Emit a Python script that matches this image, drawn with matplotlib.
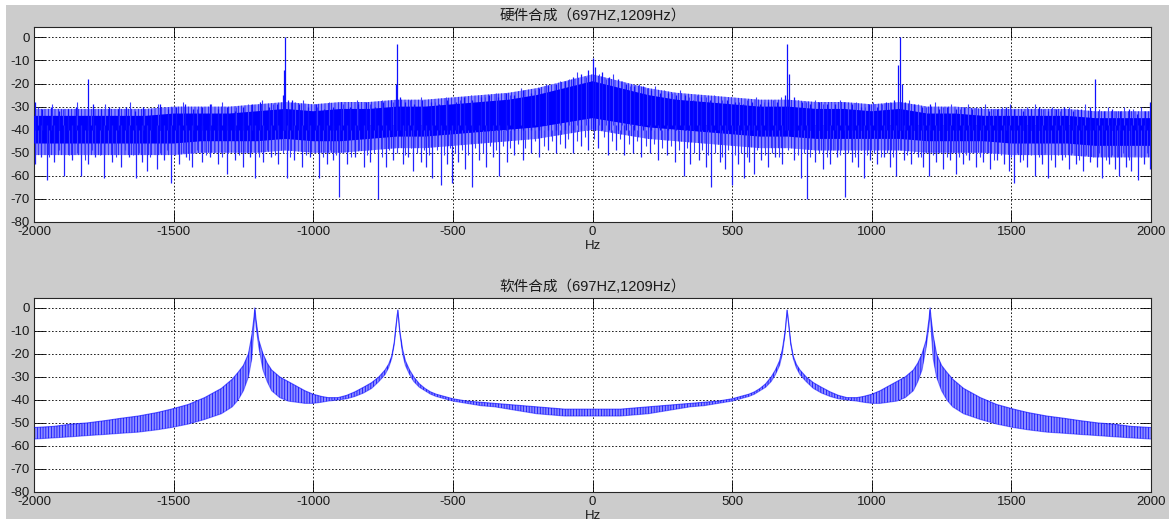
import matplotlib
matplotlib.use("Agg")
import matplotlib.pyplot as plt
from matplotlib.patches import Rectangle

plt.rcParams['axes.unicode_minus'] = False
plt.rcParams['font.family'] = ['Liberation Sans', 'Noto Sans CJK SC', 'DejaVu Sans']
plt.rcParams['hatch.linewidth'] = 0.5

# ---------------- data ----------------
titles = ['硬件合成（697HZ,1209Hz）', '软件合成（697HZ,1209Hz）']
x_ticks = [-2000, -1500, -1000, -500, 0, 500, 1000, 1500, 2000]
y_ticks = [-80, -70, -60, -50, -40, -30, -20, -10, 0]

# top: dense noise core band (dB) sampled every 100 Hz
band_f = list(range(-2000, 2001, 100))
core_hi = [-34, -34, -34, -34, -34, -33, -33, -33, -32, -31, -32, -31, -31, -30, -30, -29, -28, -27, -25, -22, -19,
           -22, -25, -27, -28, -29, -30, -30, -31, -31, -32, -31, -33, -33, -34, -34, -34, -34, -35, -35, -35]
core_lo = [-46, -46, -46, -46, -46, -46, -45, -45, -45, -44, -45, -45, -44, -43, -43, -42, -41, -40, -39, -37, -35,
           -37, -39, -40, -41, -42, -43, -43, -44, -44, -44, -44, -45, -45, -45, -46, -46, -46, -47, -47, -47]
fringe_hi = [-31, -31, -31, -31, -31, -30, -30, -30, -29, -28, -29, -28, -28, -27, -27, -26, -25, -24, -22, -19, -16,
             -19, -22, -24, -25, -26, -27, -27, -28, -28, -29, -28, -30, -30, -31, -31, -31, -31, -32, -32, -32]
fringe_lo = [-51, -51, -51, -51, -51, -51, -50, -50, -50, -49, -50, -50, -49, -48, -48, -47, -46, -45, -44, -42, -40,
             -42, -44, -45, -46, -47, -48, -48, -49, -49, -49, -49, -50, -50, -50, -51, -51, -51, -52, -52, -52]

# top: deep downward noise spikes
down_f = [-1995, -1975, -1955, -1930, -1891, -1865, -1831, -1805, -1780, -1748,
          -1720, -1690, -1660, -1635, -1615, -1595, -1561, -1535, -1509, -1480,
          -1455, -1435, -1400, -1370, -1340, -1310, -1280, -1250, -1225, -1207,
          -1180, -1150, -1125, -1095, -1070, -1040, -1010, -979, -950, -930,
          -909, -880, -850, -820, -795, -769, -740, -715, -680, -660,
          -643, -615, -595, -575, -542, -520, -504, -480, -455, -432,
          -405, -380, -355, -334, -305, -280, -250, -220, -190, -160,
          -130, -100, -70, -40, -15, 20, 57, 85, 114, 145,
          175, 205, 235, 265, 295, 326, 350, 380, 405, 426,
          455, 475, 498, 520, 541, 560, 577, 605, 630, 655,
          680, 720, 748, 768, 795, 824, 850, 875, 903, 930,
          950, 971, 995, 1020, 1045, 1065, 1088, 1115, 1140, 1165,
          1185, 1206, 1230, 1255, 1280, 1301, 1325, 1350, 1375, 1400,
          1425, 1450, 1475, 1490, 1509, 1530, 1555, 1585, 1610, 1631,
          1655, 1680, 1705, 1730, 1755, 1780, 1805, 1826, 1850, 1870,
          1887, 1910, 1930, 1953, 1975, 1995]
down_v = [-55, -52, -62, -54, -60, -53, -60, -55, -52, -61,
          -54, -56, -52, -61, -54, -58, -57, -53, -63, -55,
          -52, -56, -54, -52, -55, -59, -53, -56, -52, -61,
          -54, -52, -55, -61, -53, -56, -52, -61, -55, -53,
          -69, -55, -52, -56, -54, -70, -56, -53, -55, -52,
          -58, -54, -56, -61, -64, -55, -63, -54, -57, -65,
          -53, -56, -52, -60, -54, -51, -53, -50, -52, -49,
          -50, -48, -50, -47, -49, -48, -51, -49, -51, -50,
          -52, -50, -53, -51, -54, -60, -55, -53, -56, -65,
          -54, -57, -64, -55, -61, -54, -59, -53, -56, -52,
          -55, -53, -61, -70, -54, -57, -55, -52, -69, -54,
          -56, -61, -53, -55, -52, -56, -60, -53, -55, -52,
          -56, -60, -54, -57, -53, -59, -55, -53, -56, -54,
          -57, -53, -55, -58, -63, -54, -56, -60, -55, -61,
          -56, -53, -57, -55, -58, -54, -56, -61, -55, -57,
          -60, -56, -58, -62, -55, -57]

# top: shallow downward dips
dip_f = [-1985, -1945, -1910, -1875, -1845, -1818, -1792, -1762, -1735, -1705,
         -1675, -1645, -1625, -1585, -1548, -1522, -1495, -1468, -1445, -1418,
         -1385, -1355, -1325, -1295, -1265, -1238, -1195, -1165, -1137, -1110,
         -1082, -1055, -1025, -995, -965, -940, -918, -895, -865, -835,
         -808, -782, -755, -728, -700, -672, -650, -628, -605, -585,
         -558, -530, -512, -492, -468, -445, -420, -392, -368, -345,
         -320, -295, -268, -240, -205, -175, -145, -118, -88, -55,
         -28, 5, 40, 70, 100, 130, 160, 190, 220, 250,
         280, 310, 338, 365, 392, 415, 440, 465, 487, 510,
         532, 552, 590, 617, 642, 668, 700, 735, 758, 780,
         810, 838, 862, 888, 915, 940, 960, 983, 1008, 1033,
         1055, 1077, 1100, 1127, 1152, 1175, 1195, 1218, 1242, 1268,
         1290, 1313, 1338, 1362, 1388, 1412, 1438, 1462, 1500, 1520,
         1542, 1570, 1598, 1622, 1643, 1668, 1692, 1718, 1742, 1768,
         1792, 1815, 1838, 1860, 1878, 1898, 1920, 1942, 1963, 1985]
dip_v = [-50, -52, -49, -51, -50, -53, -49, -51, -50, -52,
         -49, -51, -50, -52, -50, -49, -51, -50, -53, -49,
         -51, -50, -52, -49, -51, -50, -52, -49, -51, -50,
         -52, -49, -51, -50, -52, -49, -51, -50, -52, -49,
         -51, -50, -52, -49, -50, -51, -48, -50, -49, -51,
         -49, -51, -48, -50, -49, -51, -48, -50, -47, -49,
         -47, -48, -46, -48, -45, -47, -45, -46, -44, -45,
         -43, -44, -43, -45, -44, -46, -45, -47, -46, -48,
         -47, -49, -48, -50, -49, -51, -50, -52, -49, -51,
         -50, -52, -49, -51, -50, -52, -49, -51, -50, -52,
         -50, -52, -49, -51, -50, -52, -49, -51, -50, -52,
         -50, -52, -49, -51, -50, -52, -50, -51, -50, -52,
         -50, -52, -51, -50, -52, -50, -53, -51, -52, -50,
         -53, -51, -52, -50, -53, -51, -52, -50, -53, -51,
         -52, -50, -53, -51, -52, -50, -53, -51, -52, -50]

# top: upward spikes and tone peaks
up_f = [-1998, -1970, -1940, -1910, -1880, -1850, -1808, -1790, -1760, -1730,
        -1700, -1670, -1640, -1610, -1580, -1550, -1520, -1490, -1460, -1430,
        -1400, -1370, -1340, -1310, -1280, -1250, -1220, -1190, -1160, -1130,
        -1110, -1103, -1100, -1090, -1075, -1050, -1020, -990, -960, -930,
        -900, -870, -840, -810, -780, -750, -720, -705, -700, -690,
        -670, -640, -610, -580, -550, -520, -490, -460, -430, -400,
        -370, -340, -310, -280, -250, -220, -190, -160, -130, -100,
        -70, -40, -15, 0, 10, 35, 60, 90, 120, 150,
        180, 210, 240, 270, 300, 330, 360, 390, 420, 450,
        480, 510, 540, 570, 600, 630, 660, 690, 697, 705,
        720, 750, 780, 810, 840, 870, 900, 930, 960, 990,
        1020, 1050, 1080, 1095, 1100, 1108, 1120, 1150, 1180, 1210,
        1240, 1270, 1300, 1330, 1360, 1390, 1420, 1450, 1480, 1510,
        1540, 1570, 1600, 1630, 1660, 1690, 1720, 1750, 1780, 1800,
        1830, 1860, 1890, 1920, 1950, 1980, 1998]
up_v = [-28, -31, -30, -32, -31, -30, -18, -29, -31, -30,
        -31, -30, -32, -30, -31, -29, -31, -30, -29, -31,
        -30, -29, -31, -30, -32, -30, -29, -28, -30, -29,
        -25, -14, 0, -27, -27, -29, -30, -29, -31, -30,
        -28, -30, -29, -28, -30, -28, -27, -20, -3, -26,
        -28, -29, -27, -28, -29, -27, -28, -26, -27, -26,
        -25, -26, -24, -25, -23, -24, -22, -21, -20, -19,
        -17, -16, -14, -9, -13, -15, -17, -18, -20, -21,
        -21, -23, -24, -24, -25, -25, -27, -26, -27, -28,
        -27, -28, -29, -28, -29, -28, -28, -25, -3, -16,
        -26, -28, -29, -28, -29, -29, -28, -29, -30, -29,
        -30, -28, -27, -12, 0, -20, -28, -29, -30, -29,
        -31, -30, -31, -30, -31, -30, -32, -31, -30, -31,
        -32, -31, -30, -32, -31, -30, -32, -31, -30, -18,
        -32, -31, -32, -31, -33, -32, -28]

# top: short upward tips
tip_f = [-1985, -1935, -1895, -1845, -1795, -1745, -1695, -1655, -1605, -1555,
         -1505, -1465, -1415, -1365, -1325, -1275, -1235, -1185, -1145, -1065,
         -1035, -985, -945, -895, -845, -795, -755, -715, -655, -615,
         -565, -525, -475, -435, -385, -345, -295, -255, -205, -165,
         -115, -85, -55, -25, 25, 50, 75, 105, 135, 165,
         195, 225, 255, 285, 315, 345, 375, 405, 435, 465,
         495, 525, 555, 585, 615, 645, 675, 735, 765, 795,
         825, 855, 885, 915, 945, 975, 1005, 1035, 1065, 1135,
         1165, 1195, 1225, 1255, 1285, 1315, 1345, 1375, 1405, 1435,
         1465, 1495, 1525, 1555, 1585, 1615, 1645, 1675, 1705, 1735,
         1765, 1815, 1845, 1875, 1905, 1935, 1965]
tip_v = [-30, -29, -31, -28, -31, -29, -30, -28, -31, -29,
         -30, -28, -31, -29, -28, -30, -29, -27, -29, -28,
         -27, -30, -28, -29, -27, -29, -27, -28, -27, -26,
         -28, -26, -27, -25, -26, -24, -25, -22, -23, -20,
         -19, -18, -15, -17, -16, -18, -16, -19, -21, -20,
         -22, -21, -23, -24, -23, -26, -25, -26, -25, -27,
         -26, -28, -27, -26, -28, -27, -26, -27, -28, -27,
         -29, -28, -27, -29, -28, -30, -28, -29, -28, -27,
         -29, -30, -28, -30, -29, -31, -29, -30, -29, -31,
         -30, -29, -31, -30, -29, -31, -30, -32, -30, -31,
         -29, -31, -30, -32, -30, -31, -30]

# bottom: software-synthesised spectrum, upper / lower edge of the ripple band
soft_f = [-2000, -1930, -1866, -1810, -1746, -1690, -1627, -1560, -1508, -1448,
          -1389, -1329, -1290, -1269, -1250, -1232, -1220, -1213, -1209, -1205,
          -1195, -1180, -1165, -1149, -1120, -1090, -1060, -1030, -1001, -970,
          -947, -911, -880, -851, -820, -791, -765, -743, -730, -719,
          -710, -703, -697, -690, -680, -670, -655, -640, -620, -600,
          -580, -560, -530, -500, -450, -400, -350, -300, -250, -200,
          -150, -100, -50,
          0,
          50, 100, 150, 200, 250, 300, 350, 400, 450, 500,
          530, 560, 580, 600, 620, 640, 655, 670, 680, 690,
          697, 703, 710, 719, 730, 743, 765, 791, 820, 851,
          880, 911, 947, 970, 1001, 1030, 1060, 1090, 1120, 1149,
          1165, 1180, 1195, 1205, 1209, 1213, 1220, 1232, 1250, 1269,
          1290, 1329, 1389, 1448, 1508, 1560, 1627, 1690, 1746, 1810,
          1866, 1930, 2000]
soft_hi = [-52, -51.5, -50.5, -50, -49, -48, -47, -45.5, -44, -42,
           -39, -35, -31, -28, -25, -20, -12, -5, 0, -5,
           -14, -20, -24, -27, -30, -32, -34, -36, -37.5, -38.5,
           -39, -39, -38, -36.5, -34.5, -32.5, -30, -27, -24.5, -21,
           -15, -7, -1, -10, -18, -23, -27, -30, -33, -35,
           -36.5, -37.5, -38.5, -39.5, -40.5, -41, -41.5, -42, -42.5, -43,
           -43.5, -44, -44,
           -44,
           -44, -44, -43.5, -43, -42.5, -42, -41.5, -41, -40.5, -39.5,
           -38.5, -37.5, -36.5, -35, -33, -30, -27, -23, -18, -10,
           -1, -7, -15, -21, -24.5, -27, -30, -32.5, -34.5, -36.5,
           -38, -39, -39, -38.5, -37.5, -36, -34, -32, -30, -27,
           -24, -20, -14, -5, 0, -5, -12, -20, -25, -28,
           -31, -35, -39, -42, -44, -45.5, -47, -48, -49, -50,
           -50.5, -51.5, -52]
soft_lo = [-57, -56.5, -56, -55.5, -55, -54.5, -54, -53, -52, -50.5,
           -48.5, -46, -43, -40, -36, -30, -22, -10, -1, -8,
           -17, -27, -32, -36, -39, -40.5, -41, -41.5, -41.5, -41,
           -40.5, -40, -39.5, -38.5, -37, -35, -32, -29, -26, -22,
           -16, -8, -1, -11, -20, -25, -29, -32, -34.5, -36,
           -37.5, -38.5, -39.5, -40.5, -41.5, -42.5, -43, -44, -45, -46,
           -46.5, -47, -47,
           -47,
           -47, -47, -46.5, -46, -45, -44, -43, -42.5, -41.5, -40.5,
           -39.5, -38.5, -37.5, -36, -34.5, -32, -29, -25, -20, -11,
           -1, -8, -16, -22, -26, -29, -32, -35, -37, -38.5,
           -39.5, -40, -40.5, -41, -41.5, -41.5, -41, -40.5, -39, -36,
           -32, -27, -17, -8, -1, -10, -22, -30, -36, -40,
           -43, -46, -48.5, -50.5, -52, -53, -54, -54.5, -55, -55.5,
           -56, -56.5, -57]

# ---------------- figure ----------------
W, H = 1169, 519
fig = plt.figure(figsize=(W / 100, H / 100), dpi=100, facecolor='#cccccc')
fig.patches.append(Rectangle((0, 1 - 5 / H), 1, 5 / H, transform=fig.transFigure,
                             facecolor='white', edgecolor='none', zorder=-1))
fig.patches.append(Rectangle((0, 0), 6 / W, 1, transform=fig.transFigure,
                             facecolor='white', edgecolor='none', zorder=-1))

ax1 = fig.add_axes([34 / W, 1 - 222 / H, 1117 / W, 195 / H])
ax2 = fig.add_axes([34 / W, 1 - 492 / H, 1117 / W, 194.5 / H])

blue = '#0000ff'

# top panel
ax1.fill_between(band_f, fringe_lo, fringe_hi, facecolor='#8a8aff', edgecolor=blue,
                 hatch='|||||', linewidth=0, zorder=2)
ax1.fill_between(band_f, core_lo, core_hi, facecolor=blue, edgecolor='none', linewidth=0, zorder=3)
ax1.vlines(dip_f, dip_v, -40, colors='#3a3aff', linewidth=0.8, zorder=3)
ax1.vlines(tip_f, -38, tip_v, colors='#3a3aff', linewidth=0.8, zorder=3)
ax1.vlines(down_f, down_v, -38, colors='#2222ff', linewidth=0.9, zorder=4)
ax1.vlines(up_f, -40, up_v, colors='#1010ff', linewidth=0.9, zorder=4)

# bottom panel
ax2.fill_between(soft_f, soft_lo, soft_hi, facecolor='#8c8cff', edgecolor=blue,
                 hatch='||||||', linewidth=0, zorder=2)
ax2.plot(soft_f, soft_hi, color=blue, linewidth=0.8, alpha=0.6, zorder=3)
ax2.plot(soft_f, soft_lo, color=blue, linewidth=0.8, alpha=0.45, zorder=3)

for ax, title in zip((ax1, ax2), titles):
    ax.set_facecolor('white')
    ax.set_xlim(-2000, 2000)
    ax.set_ylim(-80, 4.5)
    ax.set_xticks(x_ticks)
    ax.set_yticks(y_ticks)
    ax.set_axisbelow(True)
    ax.grid(True, color='black', linestyle=(0, (2, 2.2)), linewidth=0.6)
    ax.tick_params(direction='in', length=8, width=0.6, top=True, right=True,
                   labelsize=9.5, labelcolor='#1a1a1a', pad=3)
    for s in ax.spines.values():
        s.set_linewidth(0.8)
        s.set_color('#262626')
    ax.set_xlabel('Hz', fontsize=9.5, color='#1a1a1a', labelpad=1)
    ax.set_title(title, fontsize=10.5, color='#1a1a1a', pad=5)

fig.savefig('out.png', dpi=100, facecolor=fig.get_facecolor())
